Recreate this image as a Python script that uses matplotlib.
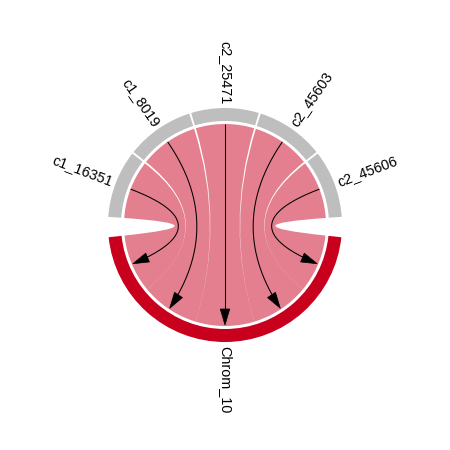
import numpy as np
import matplotlib
matplotlib.use("Agg")
import matplotlib.pyplot as plt
from matplotlib.path import Path
from matplotlib.patches import PathPatch, Wedge, Polygon

# ---- data ----
source_sectors = ["c1_16351", "c1_8019", "c2_25471", "c2_45603", "c2_45606"]
target_sector = "Chrom_10"
link_values = [1, 1, 1, 1, 1]

grey = "#BEBEBE"
red = "#C8001E"

fig = plt.figure(figsize=(4.5, 4.5), dpi=100)
ax = fig.add_axes([0, 0, 1, 1])
ax.set_xlim(-225, 225)
ax.set_ylim(-225, 225)
ax.set_aspect("equal")
ax.axis("off")

R_out, R_in, R_link = 117, 104, 101
small_gap = 1.0
top_start, top_end = 176.0, 4.0  # clockwise from left gap to right gap
unit = (top_start - top_end - small_gap * (len(source_sectors) - 1)) / sum(link_values)

def pt(theta, r=R_link):
    t = np.deg2rad(theta)
    return np.array([r * np.cos(t), r * np.sin(t)])

# source sector spans (clockwise layout)
src_spans = []
cur = top_start
for v in link_values:
    a2 = cur
    a1 = cur - v * unit
    src_spans.append((a1, a2))
    cur = a1 - small_gap

# target sector centered at 270
tot = sum(link_values) * unit
t_lo, t_hi = 270 - tot / 2, 270 + tot / 2
tgt_spans = []
cur = t_lo
for v in link_values:
    tgt_spans.append((cur, cur + v * unit))
    cur += v * unit

fontsize = 10.4
fam = ["Liberation Sans", "DejaVu Sans"]

def label(text, theta, r=121):
    th = theta % 360
    x, y = pt(th, r)
    if 90 <= th < 270:
        rot, ha = th - 180, "right"
    else:
        rot, ha = th, "left"
    ax.text(x, y, text, rotation=rot, ha=ha, va="center", rotation_mode="anchor",
            fontsize=fontsize, family=fam)

# track
for name, (a1, a2) in zip(source_sectors, src_spans):
    ax.add_patch(Wedge((0, 0), R_out, a1, a2, width=R_out - R_in, facecolor=grey, edgecolor="none"))
    label(name, (a1 + a2) / 2)
ax.add_patch(Wedge((0, 0), R_out, t_lo, t_hi, width=R_out - R_in, facecolor=red, edgecolor="none"))
label(target_sector, 270)

def arc(a, b, n=40):
    ts = np.linspace(a, b, n)
    return [pt(t) for t in ts]

link_rgba = (200 / 255, 0, 30 / 255, 0.5)
for (s1, s2), (t1, t2) in zip(src_spans, tgt_spans):
    verts, codes = [], []
    a = arc(s1, s2)
    verts += a
    codes += [Path.MOVETO] + [Path.LINETO] * (len(a) - 1)
    verts += [(0, 0), pt(t1)]
    codes += [Path.CURVE3, Path.CURVE3]
    b = arc(t1, t2)
    verts += b[1:]
    codes += [Path.LINETO] * (len(b) - 1)
    verts += [(0, 0), pt(s1)]
    codes += [Path.CURVE3, Path.CURVE3]
    verts.append(pt(s1))
    codes.append(Path.CLOSEPOLY)
    ax.add_patch(PathPatch(Path(verts, codes), facecolor=link_rgba, edgecolor="none", zorder=2))

# direction arrows
head_len, head_w = 16, 9.5
for (s1, s2), (t1, t2) in zip(src_spans, tgt_spans):
    P0 = pt((s1 + s2) / 2)
    P2 = pt((t1 + t2) / 2, 100)
    u = np.linspace(0, 1, 200)[:, None]
    B = (1 - u) ** 2 * P0 + u ** 2 * P2
    d = np.hypot(*(B - P2).T)
    keep = d > head_len * 0.6
    ax.plot(B[keep, 0], B[keep, 1], color="black", lw=0.75, zorder=3, solid_capstyle="butt")
    dirv = P2 / np.linalg.norm(P2)
    perp = np.array([-dirv[1], dirv[0]])
    base = P2 - dirv * head_len
    tri = [P2, base + perp * head_w / 2, base - perp * head_w / 2]
    ax.add_patch(Polygon(tri, closed=True, facecolor="black", edgecolor="black", lw=0.5, zorder=4))

fig.savefig("out.png", dpi=100)
